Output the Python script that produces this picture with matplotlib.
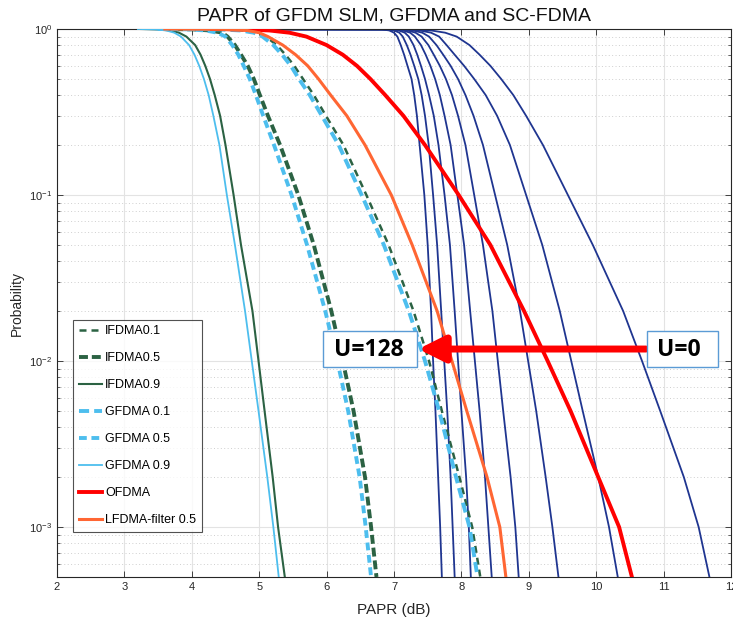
import matplotlib.pyplot as plt
from matplotlib.patches import Rectangle
from matplotlib.ticker import NullFormatter, LogLocator

plt.rcParams['font.family'] = ['Liberation Sans', 'DejaVu Sans']

# probability levels at which the curves were read
p_levels = [1, 0.995, 0.98, 0.95, 0.9, 0.8, 0.7, 0.6, 0.5, 0.4, 0.3, 0.2,
            0.1, 0.05, 0.02, 0.01, 0.005, 0.002, 0.001, 0.0005]

# PAPR (dB) at each probability level
ifdma01 = [3.95, 4.45, 4.77, 4.97, 5.10, 5.26, 5.39, 5.52, 5.65, 5.81, 5.99, 6.25,
           6.59, 6.92, 7.29, 7.52, 7.71, 7.97, 8.16, 8.28]
ifdma05 = [3.55, 4.00, 4.27, 4.45, 4.53, 4.64, 4.73, 4.83, 4.92, 5.01, 5.13, 5.31,
           5.58, 5.81, 6.07, 6.24, 6.40, 6.57, 6.66, 6.74]
ifdma09 = [3.25, 3.50, 3.68, 3.81, 3.92, 4.05, 4.13, 4.20, 4.27, 4.34, 4.42, 4.50,
           4.62, 4.73, 4.90, 4.99, 5.08, 5.20, 5.28, 5.38]
gfdma01 = [3.90, 4.40, 4.72, 4.92, 5.05, 5.21, 5.34, 5.47, 5.59, 5.75, 5.93, 6.18,
           6.52, 6.85, 7.22, 7.46, 7.67, 7.92, 8.12, 8.24]
gfdma05 = [3.50, 3.95, 4.20, 4.38, 4.50, 4.60, 4.69, 4.77, 4.86, 4.95, 5.06, 5.22,
           5.48, 5.71, 5.98, 6.16, 6.32, 6.49, 6.58, 6.66]
gfdma09 = [3.20, 3.45, 3.62, 3.74, 3.84, 3.96, 4.04, 4.11, 4.18, 4.25, 4.32, 4.41,
           4.52, 4.64, 4.79, 4.89, 4.99, 5.12, 5.21, 5.29]
ofdma = [4.30, 4.75, 5.15, 5.45, 5.70, 6.00, 6.24, 6.45, 6.65, 6.87, 7.14, 7.46,
         7.96, 8.43, 8.93, 9.28, 9.62, 10.03, 10.34, 10.53]
lfdma = [3.60, 4.45, 4.82, 5.00, 5.13, 5.35, 5.54, 5.72, 5.88, 6.06, 6.30, 6.57,
         6.96, 7.27, 7.64, 7.86, 8.08, 8.38, 8.57, 8.66]

# GFDM SLM curves, from U=128 (left) to U=0 (right)
slm1 = [2.0, 6.82, 6.93, 7.00, 7.05, 7.10, 7.15, 7.20, 7.26, 7.30, 7.34, 7.38,
        7.45, 7.50, 7.55, 7.58, 7.615, 7.655, 7.685, 7.71]
slm2 = [2.0, 6.88, 7.00, 7.08, 7.13, 7.19, 7.245, 7.30, 7.36, 7.41, 7.46, 7.515,
        7.58, 7.64, 7.70, 7.745, 7.79, 7.84, 7.87, 7.90]
slm3 = [2.0, 6.93, 7.07, 7.16, 7.22, 7.29, 7.345, 7.40, 7.46, 7.52, 7.59, 7.66,
        7.75, 7.83, 7.90, 7.95, 8.00, 8.07, 8.11, 8.14]
slm4 = [2.0, 6.98, 7.13, 7.24, 7.31, 7.40, 7.47, 7.54, 7.61, 7.68, 7.75, 7.84,
        7.94, 8.04, 8.13, 8.20, 8.27, 8.35, 8.40, 8.45]
slm5 = [2.0, 7.03, 7.20, 7.32, 7.41, 7.51, 7.59, 7.68, 7.77, 7.86, 7.95, 8.06,
        8.19, 8.32, 8.46, 8.54, 8.62, 8.73, 8.80, 8.85]
slm6 = [2.0, 7.08, 7.28, 7.42, 7.52, 7.63, 7.73, 7.84, 7.95, 8.06, 8.18, 8.32,
        8.50, 8.68, 8.87, 8.99, 9.11, 9.25, 9.35, 9.44]
slm7 = [2.0, 7.15, 7.38, 7.55, 7.67, 7.78, 7.90, 8.04, 8.19, 8.36, 8.53, 8.72,
        8.96, 9.20, 9.46, 9.63, 9.80, 10.03, 10.19, 10.32]
slm8 = [2.0, 7.25, 7.55, 7.76, 7.93, 8.12, 8.27, 8.43, 8.59, 8.77, 8.96, 9.21,
        9.58, 9.95, 10.40, 10.68, 10.95, 11.30, 11.52, 11.68]
slm_curves = [slm1, slm2, slm3, slm4, slm5, slm6, slm7, slm8]

x_ticks = list(range(2, 13))

green = '#2b6243'
lblue = '#4dbeee'

fig = plt.figure(figsize=(7.33, 6.22), dpi=100)
ax = fig.add_axes([57/733, 45/622, 674/733, 548/622])

for xs in slm_curves:
    ax.plot(xs, p_levels, color='#1f3590', lw=1.3, zorder=2)

ax.plot(ifdma01, p_levels, color=green, lw=1.8, dashes=(2.8, 2.0), label='IFDMA0.1', zorder=3)
ax.plot(ifdma05, p_levels, color=green, lw=2.8, dashes=(2.3, 1.0), label='IFDMA0.5', zorder=3)
ax.plot(ifdma09, p_levels, color=green, lw=1.5, label='IFDMA0.9', zorder=3)
ax.plot(gfdma01, p_levels, color=lblue, lw=2.8, dashes=(2.6, 1.3), label='GFDMA 0.1', zorder=3)
ax.plot(gfdma05, p_levels, color=lblue, lw=2.8, dashes=(2.0, 1.2), label='GFDMA 0.5', zorder=3)
ax.plot(gfdma09, p_levels, color=lblue, lw=1.3, label='GFDMA 0.9', zorder=3)
ax.plot(ofdma, p_levels, color='#ff0000', lw=2.8, label='OFDMA', zorder=3)
ax.plot(lfdma, p_levels, color='#ff6633', lw=2.2, label='LFDMA-filter 0.5', zorder=3)

ax.set_yscale('log')
ax.set_xlim(2, 12)
ax.set_ylim(5e-4, 1)
ax.set_xticks(x_ticks)
ax.yaxis.set_minor_locator(LogLocator(base=10, subs=range(2, 10)))
ax.yaxis.set_minor_formatter(NullFormatter())

ax.set_axisbelow(True)
ax.grid(True, which='major', color='#e3e3e3', lw=0.8, ls='-')
ax.grid(True, which='minor', axis='y', color='#cfcfcf', lw=0.7, ls=(0, (1, 2.5)))
ax.tick_params(which='both', direction='in', top=True, right=True,
               labelsize=8, colors='#262626')
ax.tick_params(which='major', length=4, width=0.6)
ax.tick_params(which='minor', length=2.5, width=0.5)
for s in ax.spines.values():
    s.set_color('#262626')
    s.set_linewidth(0.8)

ax.set_title('PAPR of GFDM SLM, GFDMA and SC-FDMA', fontsize=14, color='#111111', pad=6)
ax.set_xlabel('PAPR (dB)', fontsize=11, color='#262626', labelpad=8)
ax.set_ylabel('Probability', fontsize=10, color='#262626', labelpad=4)

leg = ax.legend(loc='lower left', bbox_to_anchor=(0.024, 0.082), fontsize=9,
                frameon=True, fancybox=False, edgecolor='#262626',
                borderpad=0.45, labelspacing=1.2, handlelength=1.85,
                handletextpad=0.25, borderaxespad=0)
leg.get_frame().set_linewidth(0.8)

# annotation: arrow from U=0 to U=128
ax.annotate('', xy=(0.536, 0.416), xytext=(0.874, 0.416), xycoords='axes fraction',
            arrowprops=dict(arrowstyle='-|>,head_length=1.0,head_width=0.5',
                            mutation_scale=16, lw=5, color='#ff0000',
                            shrinkA=0, shrinkB=0), zorder=5)
ax.add_patch(Rectangle((0.395, 0.383), 0.139, 0.066, transform=ax.transAxes,
                       fc='white', ec='#5b9bd5', lw=1, zorder=6))
ax.add_patch(Rectangle((0.875, 0.383), 0.105, 0.066, transform=ax.transAxes,
                       fc='white', ec='#5b9bd5', lw=1, zorder=6))
ax.text(0.4625, 0.414, 'U=128', transform=ax.transAxes, ha='center', va='center',
        fontsize=16.5, fontweight='bold', family='Open Sans', zorder=7)
ax.text(0.922, 0.414, 'U=0', transform=ax.transAxes, ha='center', va='center',
        fontsize=16.5, fontweight='bold', family='Open Sans', zorder=7)

fig.savefig('out.png', dpi=100)
